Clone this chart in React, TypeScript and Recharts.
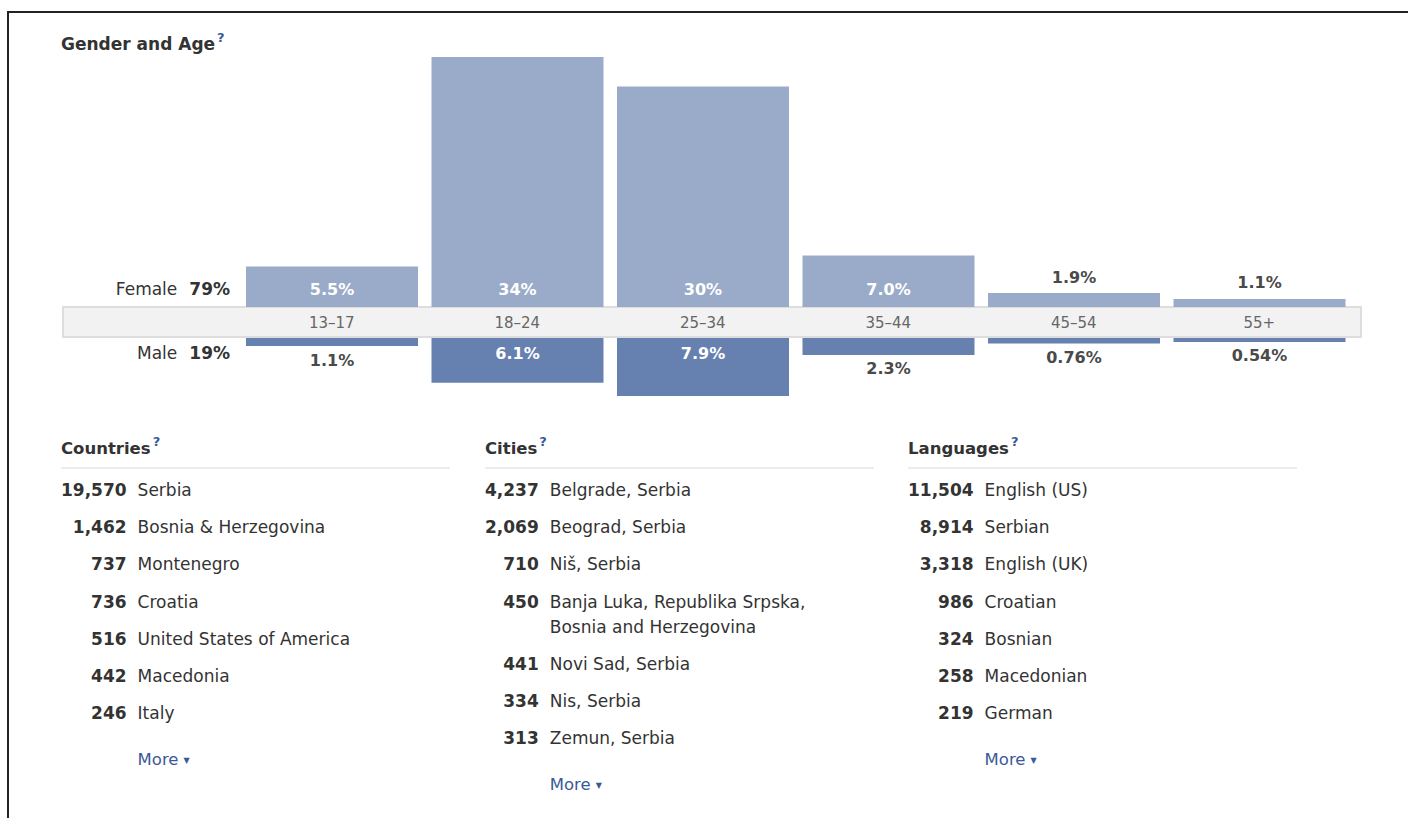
import React from "react";
import { BarChart, Bar, XAxis, YAxis, LabelList } from "recharts";

const AGE_GROUPS = ["13–17", "18–24", "25–34", "35–44", "45–54", "55+"];
const FEMALE_PCT = [5.5, 34, 30, 7.0, 1.9, 1.1];
const MALE_PCT = [1.1, 6.1, 7.9, 2.3, 0.76, 0.54];
const FEMALE_LABELS = ["5.5%", "34%", "30%", "7.0%", "1.9%", "1.1%"];
const MALE_LABELS = ["1.1%", "6.1%", "7.9%", "2.3%", "0.76%", "0.54%"];
const GENDER_NAMES = ["Female", "Male"];
const GENDER_TOTALS = ["79%", "19%"];

const COUNTRY_NAMES = ["Serbia", "Bosnia & Herzegovina", "Montenegro", "Croatia", "United States of America", "Macedonia", "Italy"];
const COUNTRY_COUNTS = [19570, 1462, 737, 736, 516, 442, 246];
const CITY_NAMES = ["Belgrade, Serbia", "Beograd, Serbia", "Niš, Serbia", "Banja Luka, Republika Srpska, Bosnia and Herzegovina", "Novi Sad, Serbia", "Nis, Serbia", "Zemun, Serbia"];
const CITY_COUNTS = [4237, 2069, 710, 450, 441, 334, 313];
const LANGUAGE_NAMES = ["English (US)", "Serbian", "English (UK)", "Croatian", "Bosnian", "Macedonian", "German"];
const LANGUAGE_COUNTS = [11504, 8914, 3318, 986, 324, 258, 219];

const FONT = '"DejaVu Sans", sans-serif';
const FEMALE_COLOR = "#9aabc9";
const MALE_COLOR = "#6680b0";
const TEXT = "#333333";
const LINK = "#3b5998";

const FEMALE_MAX = 34;
const FEMALE_PLOT_H = 250;
const MALE_CHART_H = 100;
const MALE_MAX = (FEMALE_MAX * MALE_CHART_H) / FEMALE_PLOT_H;
const MARGIN_L = 239;
const MARGIN_R = 56;

const data = AGE_GROUPS.map((age, i) => ({
  age,
  female: FEMALE_PCT[i],
  male: MALE_PCT[i],
  fLabel: FEMALE_LABELS[i],
  mLabel: MALE_LABELS[i],
}));

function rectOf(props: any) {
  const src = props.viewBox && props.viewBox.width != null ? props.viewBox : props;
  const x = Number(src.x);
  const y = Number(src.y);
  const w = Number(src.width);
  const h = Number(src.height);
  const top = Math.min(y, y + h);
  const bottom = Math.max(y, y + h);
  return { x, w, top, bottom, h: bottom - top };
}

const FemaleLabel = (props: any) => {
  const { x, w, top, bottom, h } = rectOf(props);
  const inside = h > 25;
  return (
    <text
      x={x + w / 2}
      y={inside ? bottom - 18 : top - 16}
      textAnchor="middle"
      dominantBaseline="central"
      fill={inside ? "#ffffff" : "#4a4a4a"}
      fontSize={16}
      fontWeight="bold"
      fontFamily={FONT}
    >
      {props.value}
    </text>
  );
};

const MaleLabel = (props: any) => {
  const { x, w, top, bottom, h } = rectOf(props);
  const inside = h > 25;
  return (
    <text
      x={x + w / 2}
      y={inside ? top + 15 : bottom + 14}
      textAnchor="middle"
      dominantBaseline="central"
      fill={inside ? "#ffffff" : "#4a4a4a"}
      fontSize={16}
      fontWeight="bold"
      fontFamily={FONT}
    >
      {props.value}
    </text>
  );
};

const AgeTick = (props: any) => {
  const { x, y, payload } = props;
  return (
    <text x={x} y={y + 16} textAnchor="middle" dominantBaseline="central" fill="#666666" fontSize={15} fontFamily={FONT}>
      {payload.value}
    </text>
  );
};

const Help = () => (
  <span style={{ fontSize: 13, color: LINK, position: "relative", top: -8, marginLeft: 2, fontWeight: "bold" }}>?</span>
);

function ListColumn({ left, title, names, counts }: { left: number; title: string; names: string[]; counts: number[] }) {
  return (
    <div style={{ position: "absolute", left, top: 437, width: 389, fontFamily: FONT, color: TEXT }}>
      <div style={{ fontSize: 16.5, fontWeight: "bold", lineHeight: "24px", paddingBottom: 5, borderBottom: "2px solid #ececec" }}>
        {title}
        <Help />
      </div>
      <table style={{ borderCollapse: "collapse", marginTop: 9, fontSize: 17 }}>
        <tbody>
          {names.map((n, i) => (
            <tr key={n}>
              <td style={{ textAlign: "right", fontWeight: "bold", paddingRight: 11, paddingBottom: 12.2, paddingLeft: 0, paddingTop: 0, lineHeight: "25px", whiteSpace: "nowrap", verticalAlign: "top" }}>
                {counts[i].toLocaleString("en-US")}
              </td>
              <td style={{ padding: 0, paddingBottom: 12.2, lineHeight: "25px", verticalAlign: "top", maxWidth: 310 }}>{n}</td>
            </tr>
          ))}
          <tr>
            <td />
            <td style={{ padding: 0, paddingTop: 9, lineHeight: "25px", color: LINK, fontSize: 16.5, whiteSpace: "nowrap" }}>
              More<span style={{ fontSize: 8, position: "relative", top: -2, marginLeft: 5 }}>▼</span>
            </td>
          </tr>
        </tbody>
      </table>
    </div>
  );
}

export default function App() {
  return (
    <div style={{ position: "absolute", left: 0, top: 0, width: 1408, height: 818, background: "#ffffff", overflow: "hidden", fontFamily: FONT }}>
      <div style={{ position: "absolute", left: 7, top: 11, width: 1401, height: 807, borderTop: "2px solid #222", borderLeft: "2px solid #222" }} />
      <div style={{ position: "absolute", left: 61, top: 32, fontSize: 17, fontWeight: "bold", color: TEXT, lineHeight: "24px" }}>
        Gender and Age
        <Help />
      </div>

      <div style={{ position: "absolute", left: 62, top: 306, width: 1300, height: 32, boxSizing: "border-box", background: "#f2f2f2", border: "2px solid #dddddd" }} />

      {GENDER_NAMES.map((g, i) => (
        <div key={g} style={{ position: "absolute", left: 0, width: 230, top: i === 0 ? 277 : 341, lineHeight: "24px", textAlign: "right", color: TEXT, fontSize: 17 }}>
          {g}
          <span style={{ fontWeight: "bold", marginLeft: 12 }}>{GENDER_TOTALS[i]}</span>
        </div>
      ))}

      <div style={{ position: "absolute", left: 0, top: 0 }}>
        <BarChart width={1408} height={340} data={data} margin={{ top: 57, right: MARGIN_R, bottom: 2, left: MARGIN_L }} barCategoryGap={7}>
          <XAxis dataKey="age" height={31} axisLine={false} tickLine={false} tickSize={0} tickMargin={0} tick={<AgeTick />} interval={0} />
          <YAxis hide type="number" domain={[0, FEMALE_MAX]} allowDataOverflow />
          <Bar dataKey="female" fill={FEMALE_COLOR} isAnimationActive={false}>
            <LabelList dataKey="fLabel" content={<FemaleLabel />} />
          </Bar>
        </BarChart>
      </div>

      <div style={{ position: "absolute", left: 0, top: 338 }}>
        <BarChart width={1408} height={MALE_CHART_H} data={data} margin={{ top: 0, right: MARGIN_R, bottom: 0, left: MARGIN_L }} barCategoryGap={7}>
          <XAxis dataKey="age" hide />
          <YAxis hide type="number" reversed domain={[0, MALE_MAX]} allowDataOverflow />
          <Bar dataKey="male" fill={MALE_COLOR} isAnimationActive={false}>
            <LabelList dataKey="mLabel" content={<MaleLabel />} />
          </Bar>
        </BarChart>
      </div>

      <ListColumn left={61} title="Countries" names={COUNTRY_NAMES} counts={COUNTRY_COUNTS} />
      <ListColumn left={485} title="Cities" names={CITY_NAMES} counts={CITY_COUNTS} />
      <ListColumn left={908} title="Languages" names={LANGUAGE_NAMES} counts={LANGUAGE_COUNTS} />
    </div>
  );
}
